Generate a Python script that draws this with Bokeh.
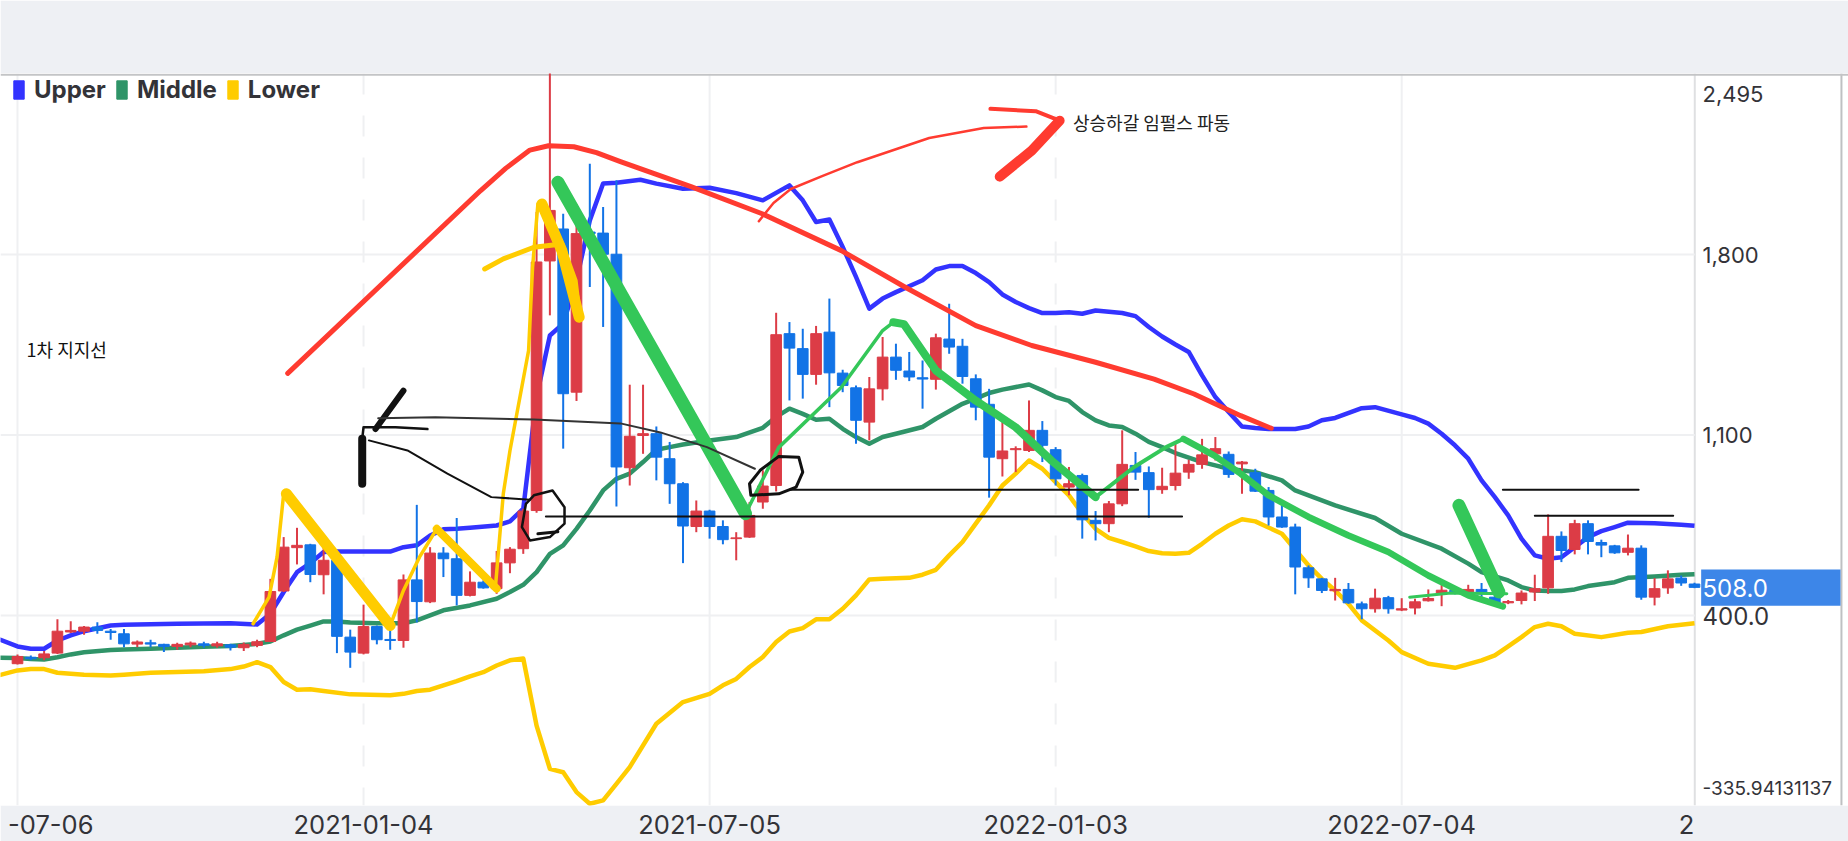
from bokeh.plotting import figure
from bokeh.models import ColumnDataSource, FixedTicker, Legend, LegendItem, Span
from bokeh.core.properties import value
from bokeh.embed import file_html
from bokeh.resources import INLINE

# ---------- candle values (weekly bars) ----------
candle_dir = ("RBRRRRBBBRBBRRBRBRRRRRBRBBRBBRBRBBRBRRRRRBRBBBRRBBBRBBRRRRBBRBBBRRBBBRBBBBRRRBBRBBRRBBRRRRRB"
              "RBBBBBBRBBRBRRRRBRBBRRRRBRBBBRBRRBB")
candle_high = [249,245,262,385,378,359,374,348,348,303,306,290,294,299,298,298,290,295,306,542,704,740,678,678,616,345,442,361,374,559,
               829,665,665,778,571,536,650,665,814,1965,2510,1958,1994,2152,1984,2088,1295,1295,1133,1073,917,846,810,769,723,840,963,1574,1538,1512,
               1523,1629,1353,1292,1325,1480,1454,1422,1389,1493,1609,1473,1335,1279,1157,1056,1234,1154,1053,976,950,805,844,1118,1034,978,973,1066,1004,1085,
               1092,1036,999,969,898,833,756,594,546,546,526,454,504,476,467,465,501,529,510,519,526,482,460,497,558,792,726,771,769,694,674,714,672,545,575,555,527]
candle_top = [241,238,251,339,342,355,355,339,329,297,294,288,288,293,290,290,286,288,298,493,665,672,674,614,614,316,357,357,307,538,
              538,642,642,620,529,529,604,657,805,1771,1971,1899,1881,1887,1883,1801,1095,1105,1105,1008,911,805,805,745,701,788,902,1489,1493,1435,
              1493,1499,1340,1283,1279,1402,1402,1348,1322,1477,1472,1444,1318,1219,1038,1047,1118,1118,1043,911,943,769,833,986,982,954,901,952,986,1023,
              1047,1025,995,954,885,782,743,585,542,501,501,445,467,469,426,453,466,498,497,501,501,471,454,487,504,707,707,756,756,683,670,661,661,504,542,545,522]
candle_bottom = [213,232,236,254,336,339,342,334,290,289,289,280,280,286,284,282,277,275,284,299,495,663,559,558,319,258,254,306,303,303,
                 454,453,620,478,478,507,504,604,659,807,1775,1260,1266,1881,1801,976,973,1098,1014,911,747,745,745,694,698,704,840,904,1437,1335,
                 1335,1341,1292,1157,1150,1279,1351,1325,1317,1316,1441,1327,1208,1014,1008,1043,1040,1060,930,898,771,756,756,833,956,888,888,904,956,986,
                 1027,947,988,882,782,743,588,546,497,496,449,426,426,426,421,429,457,485,492,488,484,448,449,458,491,507,652,656,687,673,643,645,471,471,507,526,509]
candle_low = [210,226,226,251,332,325,329,306,277,277,277,258,267,277,275,275,264,262,277,297,491,598,529,482,254,197,249,288,267,275,
              373,448,549,439,474,504,484,564,639,798,1564,1047,1232,1674,1519,823,904,1027,924,833,603,723,698,676,614,701,814,881,1234,1241,
              1295,1208,1266,1066,1079,1234,1314,1309,1202,1276,1415,1299,1157,857,939,956,1034,995,904,866,698,691,723,824,926,779,872,885,930,969,
              1001,934,872,879,749,740,482,507,487,458,445,385,411,407,417,404,454,436,482,478,471,445,444,443,456,484,607,637,637,626,639,633,461,439,484,515,506]

# ---------- indicator values ----------
upper_x = [-2,0,1,2,3,4,5,7,8,12,16,18,19,20,21,22,23,24,25,28,29,30,31,32,33,34,36,37,38,39,40,41,42,43,44,45,46.8,48,50,52,54,56,58,59,60,61,62,63,64,65,66,68,69,70,71,72,73,74,75,76,77,78,79,80,81,83,84,85,86,87,88,89,90,91,92,93,94,96,97,98,99,101,102,104,105,106,107,108,109,110,111,112,113,114,115,116,117,118,119,120,121,123,125,126]
upper_y = [320,280,271,271,303,323,339,361,364,368,370,365,407,491,568,603,646,648,648,648,665,672,710,734,736,740,749,765,814,1247,1486,1532,1700,1932,2075,2078,2090,2075,2055,2059,2038,2010,2068,2010,1926,1936,1829,1713,1590,1629,1654,1700,1742,1755,1755,1728,1693,1645,1616,1592,1573,1573,1576,1570,1583,1573,1561,1519,1482,1451,1422,1331,1247,1189,1133,1127,1123,1123,1133,1157,1166,1204,1208,1180,1166,1144,1105,1060,1008,924,859,788,698,633,620,626,665,704,727,743,760,758,752,748]
middle_x = [-2,0,1,2,3,4,5,7,8,10,12,14,16,18,19,20,21,22,23,24,25,27,29,30,31,32,34,36,37,38,39,40,41,42,43,44,45,46,47,48,49,50,51,52,54,56,57,58,59,60,61,62,63,64,65,66,68,69,71,72,73,74,76,77,78,79,80,81,82,83,84,85,86,87,88,89,90,91,93,95,96,99,102,104,107,109,110,112,113,114,115,116,117,118,120,121,123,125,126]
middle_y = [236,235,231,229,238,249,257,266,268,271,275,279,282,290,299,323,345,361,377,377,373,370,370,381,400,420,439,465,491,519,568,639,672,736,807,885,930,950,995,1043,1053,1063,1071,1079,1092,1128,1170,1202,1182,1159,1163,1124,1092,1066,1092,1105,1131,1163,1221,1241,1263,1276,1296,1273,1247,1232,1189,1157,1137,1131,1105,1073,1053,1030,1012,995,982,969,956,924,885,827,778,717,659,601,568,536,510,497,495,495,501,514,529,546,551,558,560]
lower_x = [-2,0,1,2,3,5,7,8,10,14,16,17,18,19,20,21,22,23,25,28,29,30,31,32,33,34,35,36,37,38,39,40,41,42,43,44,45,46,48,50,52,53,54,55,56,57,58,59,60,61,62,63,64,65,67,68,69,70,71,72,73,74,75,76,77,78,79,80,81,82,83,84,85,86,87,88,89,90,91,92,93,95,97,98,99,100,101,103,104,106,108,110,111,112,113,114,115,116,117,119,121,122,124,126]
lower_y = [160,187,192,192,178,170,167,170,178,184,192,202,219,200,142,112,114,107,94,91,96,107,112,129,145,164,180,206,226,233,-27,-195,-208,-285,-330,-317,-253,-188,-20,64,96,129,154,200,239,297,338,351,385,385,426,478,540,542,546,558,577,633,685,756,827,904,950,1001,969,917,866,795,736,701,685,668,650,641,639,643,678,717,749,773,765,717,594,542,497,445,381,303,258,213,197,226,245,280,316,355,368,358,329,316,333,336,358,370]

# ---------- hand-drawn marks (bar number, price) ----------
red_curve_x = [20.3,34.8,36.7,38.5,39.9,41.8,43.5,45.3,50.6,56,61.9,66.7,72,76.2,81,85.4,88.4,91.9,94.2]
red_curve_y = [1339,2048,2135,2205,2222,2218,2195,2160,2063,1957,1815,1673,1524,1447,1382,1317,1259,1175,1126]
red_sweep_x = [55.7,56.8,58.1,60.5,63.1,68.5,72.6,75.8]
red_sweep_y = [1929,2000,2054,2105,2158,2252,2291,2296]
red_tip_x = [73.1,76.5,78.3]
red_tip_y = [2365,2356,2319]
red_head_x = [78.3,76.2,73.8]
red_head_y = [2319,2203,2102]

green_down1_x = [40.6,54.7]
green_down1_y = [2080,795]
green_up1_x = [54.7,57.2,61.9,65,65.8]
green_up1_y = [795,1052,1285,1505,1537]
green_down2_x = [65.8,66.6,69,72,75,77.7,81]
green_down2_y = [1537,1530,1350,1233,1130,1000,859]
green_up2_x = [81,83.9,86.3,87.6]
green_up2_y = [859,976,1053,1085]
green_down3_x = [87.6,89.9,91.9,94,97,100,103,106,109,111.6]
green_down3_y = [1085,1021,950,866,782,710,646,555,478,435]
green_flat_x = [104.6,107.7,111.9]
green_flat_y = [471,487,484]
green_v_x = [108.3,111.3]
green_v_y = [827,491]

yellow_up1_x = [17.7,18.9,19.5,20]
yellow_up1_y = [368,471,626,872]
yellow_down1_x = [20.2,28]
yellow_down1_y = [872,361]
yellow_up2_x = [28,29,30.2,31.5]
yellow_up2_y = [361,497,626,736]
yellow_down2_x = [31.5,36]
yellow_down2_y = [736,504]
yellow_up3_x = [35.9,36.5,37,38.4,38.7,39.1]
yellow_up3_y = [504,872,1039,1427,1751,1996]
yellow_down3_x = [39.4,40.9,42.2]
yellow_down3_y = [1996,1815,1557]
yellow_hook_x = [35.1,36.5,38.8,40.9,41.9,42.2]
yellow_hook_y = [1744,1783,1828,1841,1699,1570]

black_bar1_x = [29,26.9]
black_bar1_y = [1272,1123]
black_bar2_x = [25.9,25.9]
black_bar2_y = [1085,911]
black_long_x = [27.1,31.4,38.8,45.3,48.3,51.8,55.4]
black_long_y = [1165,1169,1160,1145,1110,1053,969]
black_barb_x = [30.8,28.4,26,25.9]
black_barb_y = [1123,1130,1130,1085]
black_curve_x = [26.4,29.3,32.3,35.6,38.5]
black_curve_y = [1079,1040,950,859,849]
circle1_x = [38.2,37.9,38.5,40,41.1,41.1,40.2,38.8,38.2]
circle1_y = [833,743,691,704,756,820,885,866,833]
scribble_x = [39.1,40.6]
scribble_y = [717,725]
circle2_x = [55.8,55,55.1,57.2,58.5,59,58.7,57.2,55.8]
circle2_y = [963,911,866,872,898,956,1014,1017,963]
hline_low_x = [39.7,87.5]
hline_low_y = [784,784]
hline_high_x = [58,84.2]
hline_high_y = [888,888]
hline_r1_x = [111.6,121.8]
hline_r1_y = [888,888]
hline_r2_x = [114,124.4]
hline_r2_y = [787,787]

# ---------- axis text ----------
x_ticks = [2.5, 26, 52, 78, 104, 125.4]
x_labels = ["-07-06", "2021-01-04", "2021-07-05", "2022-01-03", "2022-07-04", "2"]
dashed_ticks = [26, 78]
solid_ticks = [0, 52, 104]
price_values = [2495, 1800, 1100, 400, 508, -335.94]
price_labels = ["2,495", "1,800", "1,100", "400.0", "508.0", "-335.94131137"]
price_sizes = ["22px", "22px", "22px", "24px", "24px", "19px"]
price_colors = ["#333338", "#333338", "#333338", "#333338", "#ffffff", "#333338"]
price_shift = [19, 0, 0, 1, 0, -17]
y_grid = [1800, 1100, 400]
last_price_top, last_price_bottom = 578, 438

FONT = "Inter"
INK = "#333338"
BAND = "#eef0f4"
UP, DOWN = "#dc3c46", "#1273e6"
BLUE, DGREEN, YELLOW = "#3333ff", "#2f9468", "#ffcc00"
RED, GREEN, BLACK = "#ff3b30", "#34c759", "#111111"

X0, X1, Y0, Y1 = -1.277, 137.57, -337, 2502
PANEL_X, RIGHT_LINE, BAND_END, LABEL_X, BOX_L = 126.02, 137.04, 136.97, 126.6, 126.5

p = figure(width=1848, height=841, output_backend="svg", toolbar_location=None,
           x_range=(X0, X1), y_range=(Y0, Y1), y_axis_location=None,
           min_border_left=0, min_border_right=0, min_border_top=73, min_border_bottom=36,
           border_fill_color=BAND, background_fill_color="white", outline_line_color=None)

# x axis
p.xaxis.ticker = FixedTicker(ticks=x_ticks)
p.xaxis.major_label_overrides = dict(zip(x_ticks, x_labels))
p.xaxis.major_tick_line_color = None
p.xaxis.minor_tick_line_color = None
p.xaxis.major_label_text_font = FONT
p.xaxis.major_label_text_color = INK
p.xaxis.major_label_text_font_size = "25.5px"
p.xaxis.axis_line_color = None
p.xaxis.major_label_standoff = 3
p.xgrid.visible = False
p.ygrid.visible = False

# grid, frame lines
p.segment([X0] * len(y_grid), y_grid, [PANEL_X] * len(y_grid), y_grid, line_color="#eff0f2", line_width=2)
for t in solid_ticks:
    p.add_layout(Span(location=t, dimension="height", line_color="#eff0f2", line_width=2, level="underlay"))
for t in dashed_ticks:
    p.add_layout(Span(location=t, dimension="height", line_color="#eff0f2", line_width=2, line_dash="21 21", level="underlay"))
p.add_layout(Span(location=PANEL_X, dimension="height", line_color="#dfe0e2", line_width=2, level="underlay"))
p.add_layout(Span(location=RIGHT_LINE, dimension="height", line_color="#bfc0c2", line_width=2, level="underlay"))
p.add_layout(Span(location=2497, dimension="width", line_color="#c3c4c6", line_width=2, level="underlay"))

# indicators under the candles
p.line(upper_x, upper_y, line_color=BLUE, line_width=4.5, line_join="round")
p.line(middle_x, middle_y, line_color=DGREEN, line_width=4.5, line_join="round")
p.line(lower_x, lower_y, line_color=YELLOW, line_width=4.5, line_join="round")

# candles
idx = list(range(len(candle_high)))
colors = [UP if d == "R" else DOWN for d in candle_dir]
src = ColumnDataSource(dict(x=idx, high=candle_high, low=candle_low, top=candle_top, bottom=candle_bottom, color=colors))
p.segment("x", "high", "x", "low", source=src, line_color="color", line_width=2)
p.vbar("x", 0.8, "bottom", "top", source=src, fill_color="color", line_color="color", line_width=1)

# hand-drawn marks
strokes = [
    (red_curve_x, red_curve_y, RED, 5), (red_sweep_x, red_sweep_y, RED, 2.5), (red_tip_x, red_tip_y, RED, 4),
    (red_head_x, red_head_y, RED, 10),
    (green_down1_x, green_down1_y, GREEN, 13), (green_up1_x, green_up1_y, GREEN, 3.5), (green_down2_x, green_down2_y, GREEN, 8),
    (green_up2_x, green_up2_y, GREEN, 4), (green_down3_x, green_down3_y, GREEN, 6.5), (green_flat_x, green_flat_y, GREEN, 3),
    (green_v_x, green_v_y, GREEN, 13),
    (yellow_up1_x, yellow_up1_y, YELLOW, 3.5), (yellow_down1_x, yellow_down1_y, YELLOW, 11), (yellow_up2_x, yellow_up2_y, YELLOW, 3.5),
    (yellow_down2_x, yellow_down2_y, YELLOW, 8), (yellow_up3_x, yellow_up3_y, YELLOW, 3.5), (yellow_down3_x, yellow_down3_y, YELLOW, 11),
    (yellow_hook_x, yellow_hook_y, YELLOW, 5),
    (black_bar1_x, black_bar1_y, BLACK, 6), (black_bar2_x, black_bar2_y, BLACK, 8), (black_long_x, black_long_y, "#333333", 2),
    (black_barb_x, black_barb_y, BLACK, 2.5), (black_curve_x, black_curve_y, BLACK, 2), (circle1_x, circle1_y, BLACK, 2.5),
    (scribble_x, scribble_y, BLACK, 3), (circle2_x, circle2_y, BLACK, 3),
    (hline_low_x, hline_low_y, BLACK, 2), (hline_high_x, hline_high_y, BLACK, 2), (hline_r1_x, hline_r1_y, BLACK, 2),
    (hline_r2_x, hline_r2_y, BLACK, 2),
]
for xs, ys, c, w in strokes:
    p.line(xs, ys, line_color=c, line_width=w, line_cap="round", line_join="round")

# hand-written notes
p.text([0.68], [1435], text=["1차 지지선"], text_font=value("Noto Sans CJK KR"), text_font_size="18px",
       text_baseline="middle", text_color="#111111")
p.text([79.3], [2312], text=["상승하갈 임펄스 파동"], text_font=value("Noto Sans CJK KR"), text_font_size="18px",
       text_baseline="middle", text_color="#222222")

# legend
nan = float("nan")
box_u = p.quad(left=[nan], right=[nan], top=[nan], bottom=[nan], fill_color=BLUE, line_color=BLUE)
box_m = p.quad(left=[nan], right=[nan], top=[nan], bottom=[nan], fill_color=DGREEN, line_color=DGREEN)
box_l = p.quad(left=[nan], right=[nan], top=[nan], bottom=[nan], fill_color=YELLOW, line_color=YELLOW)
legend = Legend(items=[LegendItem(label="Upper", renderers=[box_u]), LegendItem(label="Middle", renderers=[box_m]),
                       LegendItem(label="Lower", renderers=[box_l])],
                orientation="horizontal", location=(12, 701), margin=0, padding=0, spacing=9,
                glyph_width=13, glyph_height=23, label_standoff=9, label_text_font=FONT, label_text_font_size="24px",
                label_text_font_style="bold", label_text_color=INK, background_fill_alpha=0, border_line_color=None)
p.add_layout(legend)

# price scale
p.quad(left=[BOX_L], right=[BAND_END], top=[last_price_top], bottom=[last_price_bottom], fill_color="#3d86e8", line_color=None)
for v, t, s, c, d in zip(price_values, price_labels, price_sizes, price_colors, price_shift):
    p.text([LABEL_X], [v], text=[t], text_font=value(FONT), text_font_size=s, text_color=c, text_baseline="middle", y_offset=d)

open("out.html", "w").write(file_html(p, INLINE))
